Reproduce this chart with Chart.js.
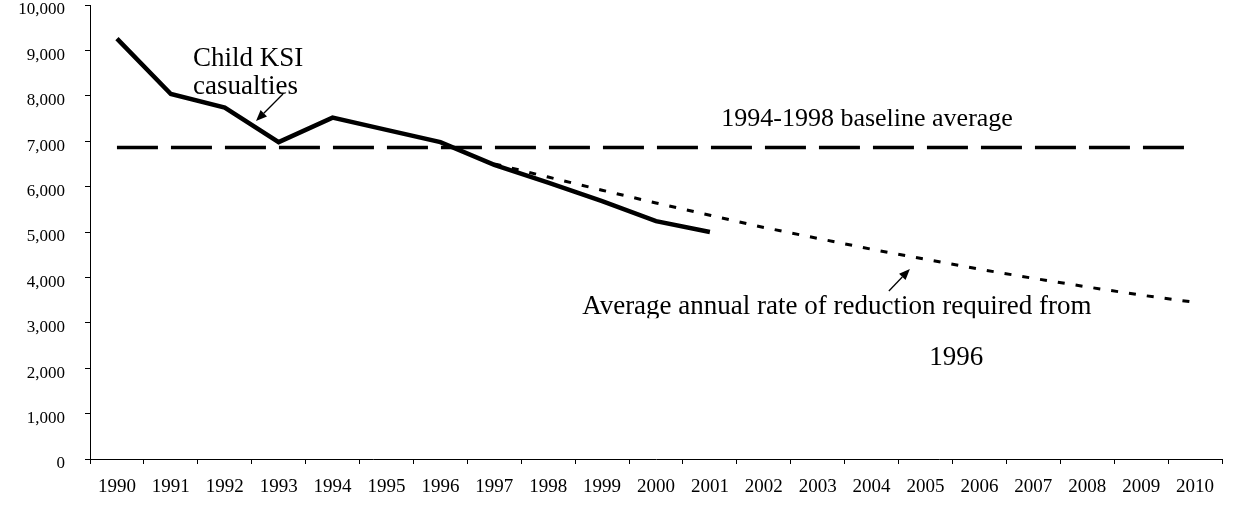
<!DOCTYPE html>
<html>
<head>
<meta charset="utf-8">
<script src="https://cdn.jsdelivr.net/npm/chart.js@4.4.1/dist/chart.umd.min.js"></script>
<style>
  html, body { margin: 0; padding: 0; background: #fff; }
  #wrap { width: 1234px; height: 506px; }
</style>
</head>
<body>
<div id="wrap"><canvas id="c" width="1234" height="506"></canvas></div>
<script>
// Years on the horizontal axis
const years = ['1990','1991','1992','1993','1994','1995','1996','1997','1998','1999',
               '2000','2001','2002','2003','2004','2005','2006','2007','2008','2009','2010'];

// Child killed or seriously injured casualties (observed, 1990-2001)
const casualties = [9260, 8040, 7740, 6980, 7520, 7250, 6980, 6480, 6090, 5680, 5240, 5000,
                    null, null, null, null, null, null, null, null, null];

// 1994-1998 baseline average, drawn across the whole period
const baselineAverage = [6860, 6860, 6860, 6860, 6860, 6860, 6860, 6860, 6860, 6860, 6860,
                         6860, 6860, 6860, 6860, 6860, 6860, 6860, 6860, 6860, 6860];

// Trajectory at the average annual rate of reduction required from 1996
const requiredPath = [null, null, null, null, null, null, null,
                      6500, 6210, 5920, 5640, 5370, 5100, 4860, 4620, 4400, 4180, 3980, 3790, 3610, 3450];

// Value axis
const yMin = 0;
const yMax = 10000;
const yStep = 1000;

// Text notes, anchored in data space: category position (index) and value
const notes = [
  { lines: ['Child KSI', 'casualties'], at: [1.41, 8660], lineGap: 28, size: 27 },
  { lines: ['1994-1998 baseline average'], at: [11.21, 7330], size: 26 },
  { lines: ['Average annual rate of reduction required from'], at: [8.63, 3200], clipAt: 3100, size: 27 },
  { lines: ['1996'], at: [15.57, 2080], align: 'center', size: 27 }
];
const arrows = [
  { from: [3.08, 8040], to: [2.58, 7445] },
  { from: [14.32, 3700], to: [14.71, 4185] }
];

const serif = 'Liberation Serif, Times New Roman, serif';

const notesPlugin = {
  id: 'notes',
  afterDatasetsDraw(chart) {
    const { ctx, scales: { x, y } } = chart;
    ctx.save();
    ctx.fillStyle = '#000';
    ctx.strokeStyle = '#000';
    ctx.textBaseline = 'alphabetic';
    notes.forEach(n => {
      const px = x.getPixelForValue(n.at[0]);
      let py = y.getPixelForValue(n.at[1]);
      ctx.save();
      ctx.font = n.size + 'px ' + serif;
      if (n.clipAt !== undefined) {
        ctx.beginPath();
        ctx.rect(0, 0, chart.width, y.getPixelForValue(n.clipAt));
        ctx.clip();
      }
      ctx.textAlign = n.align || 'left';
      n.lines.forEach(t => {
        ctx.fillText(t, px, py);
        py += n.lineGap || 0;
      });
      ctx.restore();
    });
    arrows.forEach(a => {
      const x1 = x.getPixelForValue(a.from[0]), y1 = y.getPixelForValue(a.from[1]);
      const x2 = x.getPixelForValue(a.to[0]), y2 = y.getPixelForValue(a.to[1]);
      const ang = Math.atan2(y2 - y1, x2 - x1);
      const head = 11, half = 4.5;
      const bx = x2 - head * Math.cos(ang), by = y2 - head * Math.sin(ang);
      ctx.lineWidth = 1.3;
      ctx.beginPath();
      ctx.moveTo(x1, y1);
      ctx.lineTo(bx, by);
      ctx.stroke();
      ctx.beginPath();
      ctx.moveTo(x2, y2);
      ctx.lineTo(bx + half * Math.sin(ang), by - half * Math.cos(ang));
      ctx.lineTo(bx - half * Math.sin(ang), by + half * Math.cos(ang));
      ctx.closePath();
      ctx.fill();
    });
    ctx.restore();
  }
};

new Chart(document.getElementById('c'), {
  type: 'line',
  data: {
    labels: years,
    datasets: [
      {
        label: 'Child KSI casualties',
        data: casualties,
        borderColor: '#000',
        borderWidth: 4.5,
        pointRadius: 0,
        tension: 0,
        spanGaps: false,
        borderJoinStyle: 'miter'
      },
      {
        label: '1994-1998 baseline average',
        data: baselineAverage,
        borderColor: '#000',
        borderWidth: 3.5,
        borderDash: [41, 13],
        pointRadius: 0,
        tension: 0
      },
      {
        label: 'Average annual rate of reduction required from 1996',
        data: requiredPath,
        borderColor: '#000',
        borderWidth: 3,
        borderDash: [7, 11],
        pointRadius: 0,
        tension: 0
      }
    ]
  },
  options: {
    responsive: false,
    devicePixelRatio: 1,
    animation: false,
    layout: { padding: { top: 5, right: 12, bottom: 0, left: 0 } },
    plugins: {
      legend: { display: false },
      tooltip: { enabled: false }
    },
    scales: {
      x: {
        type: 'category',
        offset: true,
        grid: { offset: true, drawOnChartArea: false, drawTicks: true, tickLength: 5, color: '#000', lineWidth: 1 },
        border: { color: '#000', width: 1 },
        ticks: {
          color: '#000',
          font: { family: serif, size: 19 },
          padding: 12,
          maxRotation: 0,
          autoSkip: false
        },
        afterFit(s) { s.height = 47; s.paddingLeft = 0; s.paddingRight = 0; }
      },
      y: {
        min: yMin,
        max: yMax,
        grid: { drawOnChartArea: false, drawTicks: true, tickLength: 5, color: '#000', lineWidth: 1 },
        border: { color: '#000', width: 1 },
        ticks: {
          stepSize: yStep,
          color: '#000',
          font: { family: serif, size: 17 },
          padding: 20,
          labelOffset: 5,
          callback: v => v.toLocaleString('en-US')
        },
        afterFit(s) { s.width = 90; s.paddingTop = 0; s.paddingBottom = 0; }
      }
    }
  },
  plugins: [notesPlugin]
});
</script>
</body>
</html>
